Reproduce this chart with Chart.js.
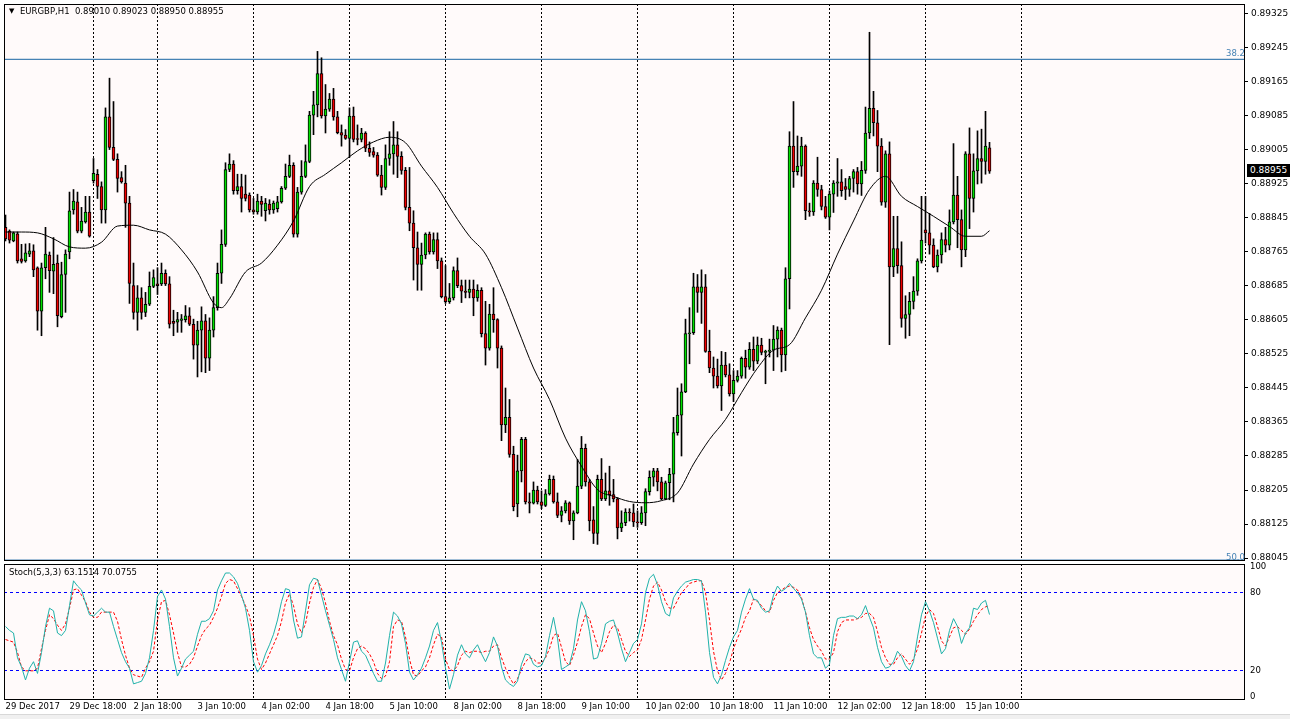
<!DOCTYPE html>
<html>
<head>
<meta charset="utf-8">
<title>EURGBP,H1</title>
<script src="https://cdn.jsdelivr.net/npm/chart.js@4.4.1/dist/chart.umd.min.js"></script>
<style>
  body { margin:0; background:#fff; width:1290px; height:719px; position:relative; overflow:hidden; font-family:'DejaVu Sans', sans-serif; }
  canvas { position:absolute; left:0; }
  #cMain { top:0; width:1290px; height:562px; }
  #cStoch { top:562px; width:1290px; height:157px; }
  .txt { position:absolute; font-size:8.5px; line-height:11px; white-space:pre; color:#000; }
  #priceBox { position:absolute; left:1247px; top:164px; width:43px; height:13px; background:#000; color:#fff; font-size:9px; line-height:13px; padding-left:3px; box-sizing:border-box; }
  #winBottom { position:absolute; left:0; top:714px; width:1290px; height:5px; background:#f0f0f0; border-top:1px solid #d8d8d8; }
</style>
</head>
<body>
<canvas id="cMain" width="1290" height="562"></canvas>
<canvas id="cStoch" width="1290" height="157"></canvas>
<div class="txt" style="left:9px;top:6px;font-size:7px">▼</div>
<div class="txt" style="left:20px;top:6px">EURGBP,H1  0.89010 0.89023 0.88950 0.88955</div>
<div class="txt" style="left:9px;top:567px">Stoch(5,3,3) 63.1514 70.0755</div>
<div class="txt" style="left:1226px;top:48px;color:#4682b4">38.2</div>
<div class="txt" style="left:1226px;top:552px;color:#4682b4">50.0</div>
<div id="priceBox">0.88955</div>
<div id="winBottom"></div>
<script>
// EURGBP H1, 29 Dec 2017 02:00 .. 15 Jan 2018 16:00 (bar index 0..246)
const open = [
  0.88823,0.88814,0.88791,0.88808,0.88749,0.88744,0.88760,0.88768,0.88728,0.88626,
  0.88728,0.88758,0.88720,0.88739,0.88613,0.88712,0.88765,0.88864,0.88883,0.88814,
  0.88836,0.88859,0.88933,0.88948,0.88919,0.88864,0.89083,0.89011,0.88983,0.88940,
  0.88927,0.88880,0.88686,0.88623,0.88657,0.88623,0.88642,0.88684,0.88690,0.88690,
  0.88715,0.88690,0.88602,0.88600,0.88604,0.88606,0.88615,0.88595,0.88546,0.88581,
  0.88603,0.88515,0.88581,0.88634,0.88715,0.88783,0.88959,0.88972,0.88909,0.88919,
  0.88901,0.88899,0.88864,0.88859,0.88885,0.88862,0.88878,0.88864,0.88867,0.88883,
  0.88915,0.88943,0.88969,0.88807,0.88906,0.88943,0.88978,0.89087,0.89111,0.89185,
  0.89085,0.89101,0.89125,0.89083,0.89046,0.89040,0.89032,0.89085,0.89032,0.89030,
  0.89045,0.89009,0.89001,0.88993,0.88946,0.88917,0.88985,0.88996,0.89017,0.88990,
  0.88957,0.88870,0.88833,0.88775,0.88736,0.88758,0.88807,0.88765,0.88794,0.88744,
  0.88660,0.88648,0.88657,0.88721,0.88686,0.88673,0.88670,0.88678,0.88657,0.88675,
  0.88573,0.88539,0.88619,0.88606,0.88539,0.88358,0.88376,0.88289,0.88172,0.88250,
  0.88324,0.88177,0.88174,0.88205,0.88177,0.88169,0.88196,0.88230,0.88177,0.88145,
  0.88156,0.88175,0.88132,0.88151,0.88214,0.88303,0.88224,0.88135,0.88103,0.88230,
  0.88184,0.88203,0.88194,0.88184,0.88116,0.88128,0.88153,0.88151,0.88130,0.88128,
  0.88151,0.88201,0.88235,0.88250,0.88224,0.88184,0.88222,0.88242,0.88340,0.88381,
  0.88436,0.88573,0.88575,0.88683,0.88670,0.88683,0.88531,0.88492,0.88473,0.88450,
  0.88499,0.88476,0.88431,0.88463,0.88473,0.88515,0.88494,0.88536,0.88508,0.88546,
  0.88529,0.88531,0.88534,0.88560,0.88581,0.88523,0.88702,0.89014,0.88954,0.88967,
  0.89014,0.88862,0.88859,0.88927,0.88912,0.88872,0.88847,0.88901,0.88927,0.88930,
  0.88919,0.88912,0.88938,0.88954,0.88925,0.88957,0.89045,0.89103,0.89069,0.89014,
  0.88882,0.88996,0.88730,0.88773,0.88733,0.88609,0.88618,0.88649,0.88673,0.88744,
  0.88817,0.88810,0.88781,0.88730,0.88758,0.88794,0.88781,0.88836,0.88899,0.88841,
  0.88770,0.88996,0.88891,0.88956,0.88985,0.88978,0.89010
];
const high = [
  0.88852,0.88817,0.88812,0.88812,0.88783,0.88784,0.88785,0.88782,0.88730,0.88739,
  0.88823,0.88765,0.88799,0.88758,0.88741,0.88770,0.88906,0.88912,0.88906,0.88870,
  0.88896,0.88896,0.88985,0.88959,0.88930,0.89104,0.89174,0.89119,0.88996,0.88954,
  0.88969,0.88896,0.88739,0.88686,0.88681,0.88670,0.88718,0.88723,0.88728,0.88739,
  0.88723,0.88707,0.88628,0.88623,0.88618,0.88639,0.88634,0.88607,0.88602,0.88636,
  0.88618,0.88610,0.88660,0.88739,0.88817,0.88975,0.88996,0.88980,0.88948,0.88948,
  0.88946,0.88904,0.88891,0.88901,0.88896,0.88891,0.88888,0.88885,0.88896,0.88919,
  0.88972,0.88993,0.88975,0.88917,0.88980,0.89017,0.89096,0.89143,0.89237,0.89222,
  0.89159,0.89138,0.89150,0.89096,0.89064,0.89053,0.89104,0.89106,0.89064,0.89056,
  0.89048,0.89024,0.89011,0.88999,0.88969,0.89017,0.89048,0.89072,0.89048,0.89001,
  0.88964,0.88964,0.88862,0.88812,0.88786,0.88810,0.88812,0.88810,0.88810,0.88751,
  0.88733,0.88691,0.88730,0.88751,0.88699,0.88699,0.88699,0.88699,0.88688,0.88681,
  0.88649,0.88642,0.88681,0.88608,0.88544,0.88445,0.88418,0.88308,0.88287,0.88329,
  0.88329,0.88198,0.88224,0.88214,0.88203,0.88206,0.88240,0.88238,0.88198,0.88166,
  0.88180,0.88177,0.88156,0.88277,0.88331,0.88313,0.88230,0.88166,0.88240,0.88279,
  0.88245,0.88261,0.88230,0.88187,0.88156,0.88161,0.88161,0.88172,0.88156,0.88166,
  0.88208,0.88250,0.88256,0.88256,0.88235,0.88226,0.88256,0.88376,0.88445,0.88455,
  0.88607,0.88634,0.88715,0.88712,0.88723,0.88712,0.88581,0.88518,0.88513,0.88531,
  0.88529,0.88502,0.88486,0.88486,0.88518,0.88534,0.88552,0.88565,0.88565,0.88562,
  0.88534,0.88560,0.88592,0.88589,0.88586,0.88728,0.89048,0.89119,0.89038,0.89035,
  0.89017,0.88880,0.88933,0.88988,0.88922,0.88896,0.88909,0.88933,0.88985,0.88959,
  0.88938,0.88943,0.88959,0.88964,0.88978,0.89106,0.89282,0.89143,0.89098,0.89032,
  0.89003,0.89024,0.88849,0.88849,0.88789,0.88662,0.88670,0.88707,0.88749,0.88896,
  0.88896,0.88856,0.88796,0.88770,0.88810,0.88823,0.88864,0.89020,0.88943,0.88864,
  0.89001,0.89057,0.88996,0.89050,0.89054,0.89096,0.89023
];
const low = [
  0.88791,0.88786,0.88789,0.88739,0.88739,0.88741,0.88754,0.88707,0.88581,0.88568,
  0.88702,0.88670,0.88667,0.88589,0.88610,0.88623,0.88749,0.88854,0.88810,0.88810,
  0.88833,0.88800,0.88927,0.88891,0.88833,0.88833,0.89006,0.88980,0.88906,0.88927,
  0.88823,0.88644,0.88607,0.88581,0.88607,0.88613,0.88639,0.88681,0.88665,0.88686,
  0.88686,0.88586,0.88568,0.88576,0.88576,0.88600,0.88592,0.88513,0.88471,0.88483,
  0.88481,0.88486,0.88565,0.88628,0.88691,0.88778,0.88954,0.88901,0.88901,0.88859,
  0.88885,0.88859,0.88854,0.88854,0.88849,0.88838,0.88854,0.88856,0.88859,0.88880,
  0.88912,0.88940,0.88800,0.88800,0.88901,0.88940,0.88975,0.89041,0.89083,0.89080,
  0.89045,0.89096,0.89075,0.89043,0.89014,0.89030,0.88988,0.89024,0.89017,0.89024,
  0.89001,0.88990,0.88988,0.88943,0.88899,0.88912,0.88969,0.88948,0.88940,0.88948,
  0.88864,0.88815,0.88699,0.88675,0.88675,0.88749,0.88760,0.88760,0.88726,0.88657,
  0.88644,0.88644,0.88652,0.88681,0.88646,0.88657,0.88657,0.88615,0.88649,0.88565,
  0.88499,0.88534,0.88576,0.88492,0.88321,0.88340,0.88282,0.88156,0.88142,0.88224,
  0.88172,0.88151,0.88172,0.88172,0.88161,0.88166,0.88193,0.88174,0.88140,0.88130,
  0.88151,0.88124,0.88088,0.88149,0.88208,0.88214,0.88109,0.88079,0.88077,0.88180,
  0.88180,0.88169,0.88177,0.88090,0.88107,0.88121,0.88132,0.88119,0.88117,0.88124,
  0.88121,0.88193,0.88214,0.88203,0.88182,0.88182,0.88182,0.88177,0.88334,0.88285,
  0.88434,0.88502,0.88571,0.88623,0.88597,0.88529,0.88481,0.88445,0.88445,0.88392,
  0.88471,0.88426,0.88413,0.88459,0.88468,0.88468,0.88489,0.88486,0.88502,0.88523,
  0.88455,0.88518,0.88486,0.88518,0.88483,0.88486,0.88631,0.88917,0.88946,0.88943,
  0.88841,0.88849,0.88851,0.88896,0.88864,0.88844,0.88817,0.88858,0.88896,0.88896,
  0.88888,0.88896,0.88906,0.88901,0.88898,0.88950,0.89032,0.89038,0.88954,0.88875,
  0.88870,0.88547,0.88707,0.88715,0.88588,0.88562,0.88568,0.88631,0.88663,0.88739,
  0.88786,0.88760,0.88728,0.88718,0.88739,0.88765,0.88770,0.88831,0.88775,0.88730,
  0.88754,0.88820,0.88859,0.88925,0.88927,0.88948,0.88950
];
const close = [
  0.88796,0.88793,0.88810,0.88744,0.88743,0.88763,0.88768,0.88723,0.88626,0.88728,
  0.88760,0.88721,0.88736,0.88615,0.88712,0.88760,0.88862,0.88885,0.88814,0.88838,
  0.88859,0.88802,0.88950,0.88919,0.88864,0.89083,0.89011,0.88983,0.88938,0.88930,
  0.88880,0.88691,0.88623,0.88657,0.88623,0.88642,0.88684,0.88705,0.88686,0.88715,
  0.88690,0.88595,0.88597,0.88606,0.88608,0.88615,0.88595,0.88546,0.88581,0.88603,
  0.88515,0.88581,0.88634,0.88715,0.88783,0.88959,0.88972,0.88909,0.88919,0.88891,
  0.88891,0.88864,0.88859,0.88885,0.88877,0.88880,0.88864,0.88880,0.88883,0.88915,
  0.88943,0.88969,0.88807,0.88906,0.88943,0.88978,0.89087,0.89111,0.89185,0.89085,
  0.89101,0.89125,0.89083,0.89046,0.89040,0.89032,0.89085,0.89030,0.89030,0.89045,
  0.89009,0.88999,0.88993,0.88946,0.88917,0.88985,0.88996,0.89017,0.88990,0.88957,
  0.88870,0.88833,0.88775,0.88736,0.88758,0.88807,0.88765,0.88794,0.88744,0.88660,
  0.88648,0.88657,0.88721,0.88686,0.88673,0.88670,0.88678,0.88657,0.88675,0.88573,
  0.88539,0.88619,0.88606,0.88539,0.88358,0.88376,0.88289,0.88166,0.88250,0.88324,
  0.88177,0.88174,0.88205,0.88177,0.88169,0.88196,0.88230,0.88177,0.88145,0.88156,
  0.88175,0.88132,0.88151,0.88214,0.88303,0.88224,0.88132,0.88103,0.88230,0.88184,
  0.88203,0.88194,0.88184,0.88116,0.88128,0.88153,0.88151,0.88130,0.88128,0.88151,
  0.88201,0.88235,0.88250,0.88224,0.88184,0.88222,0.88242,0.88340,0.88381,0.88436,
  0.88573,0.88575,0.88683,0.88670,0.88683,0.88531,0.88492,0.88473,0.88450,0.88499,
  0.88476,0.88431,0.88463,0.88473,0.88515,0.88494,0.88536,0.88508,0.88546,0.88529,
  0.88531,0.88534,0.88560,0.88581,0.88523,0.88702,0.89014,0.88954,0.88967,0.89014,
  0.88862,0.88859,0.88927,0.88912,0.88872,0.88847,0.88901,0.88927,0.88930,0.88909,
  0.88912,0.88938,0.88954,0.88925,0.88957,0.89045,0.89103,0.89069,0.89014,0.88882,
  0.88996,0.88730,0.88773,0.88733,0.88609,0.88618,0.88649,0.88673,0.88744,0.88793,
  0.88810,0.88781,0.88730,0.88758,0.88794,0.88781,0.88836,0.88899,0.88841,0.88770,
  0.88996,0.88891,0.88956,0.88985,0.88978,0.89014,0.88955
];

// moving average (bar index -> price)
const maBar = [0,4,8,12,16,20,24,28,32,36,40,44,48,52,54,56,60,64,68,72,76,80,84,88,92,96,100,104,108,112,116,120,124,128,132,136,140,144,148,152,156,160,164,168,172,176,180,184,188,192,196,200,204,208,212,216,220,224,228,232,236,240,244,246];
const maValue = [0.88812,0.88812,0.88810,0.88796,0.88777,0.88774,0.88788,0.88826,0.88828,0.88817,0.88807,0.88770,0.88718,0.88645,0.88634,0.88655,0.88718,0.88739,0.88781,0.88838,0.88919,0.88948,0.88975,0.89003,0.89024,0.89035,0.89022,0.88967,0.88917,0.88856,0.88802,0.88760,0.88681,0.88586,0.88492,0.88418,0.88327,0.88261,0.88206,0.88190,0.88178,0.88175,0.88180,0.88198,0.88266,0.88324,0.88371,0.88434,0.88492,0.88534,0.88547,0.88610,0.88675,0.88760,0.88838,0.88912,0.88943,0.88896,0.88872,0.88849,0.88825,0.88802,0.88802,0.88815];

// Stoch(5,3,3)
const stochMain = [
  54,51,49,30,23,13,22,27,18,34, 54,68,66,49,47,51,70,89,85,82, 72,63,62,65,68,65,65,54,44,34, 27,22,
  10,11,12,18,30,51,77,82,75,54, 30,16,22,29,32,35,48,58,58,60, 66,82,89,95,95,92,87,78,68,51, 27,19,
  24,33,40,48,59,73,83,82,59,45, 46,66,86,91,90,78,66,55,44,30, 21,12,27,42,43,35,32,25,18,12, 12,26,
  47,65,62,56,41,19,13,17,22,30, 39,51,57,42,22,6,17,32,40,33, 30,36,40,33,27,34,46,39,23,13, 10,8,
  12,25,33,32,25,23,24,31,47,61, 45,21,23,25,37,59,73,66,50,29, 30,41,56,58,59,49,37,27,34,41, 44,56,
  80,91,94,86,73,64,62,76,81,85, 88,89,90,90,89,65,34,15,10,17, 28,38,46,51,65,75,83,75,74,68, 65,66,
  78,85,81,83,87,83,80,75,65,47, 33,30,30,22,25,47,60,61,61,62, 62,60,63,70,61,53,38,27,22,23, 27,35,
  31,24,20,27,46,63,73,66,57,45, 33,37,51,60,54,41,49,53,68,67, 72,74,63.15
];
const stochSignal = [
  44,43,42,34,23,20,20,20,22,37, 51,63,60,55,51,56,68,82,83,78, 73,65,61,61,65,65,65,65,58,44, 32,22,
  17,16,15,22,27,35,59,73,74,63, 49,34,23,23,25,30,39,47,52,55, 61,68,77,87,90,89,83,77,70,62, 47,29,
  21,26,33,40,47,58,72,79,70,56, 49,56,72,84,90,83,72,58,47,40, 29,21,20,30,37,39,37,33,27,18, 14,16,
  27,54,59,58,46,29,17,16,20,23, 30,40,48,46,29,21,20,24,32,35, 34,35,35,34,35,35,39,40,30,22, 15,10,
  14,21,27,30,29,26,26,30,37,47, 49,38,27,24,32,42,54,63,60,49, 39,34,41,50,55,53,44,35,31,34, 36,44,
  59,75,85,88,82,73,68,68,74,80, 83,87,88,89,89,80,59,35,20,13, 18,26,37,45,52,61,66,75,73,70, 66,65,
  74,80,82,84,85,84,82,76,65,53, 44,39,35,29,29,34,50,57,59,59, 59,60,61,64,64,61,50,38,30,25, 25,30,
  33,29,25,29,37,49,62,67,64,54, 43,39,46,53,54,51,48,52,58,63, 67,69,70.08
];

const priceTicks = [0.89325,0.89245,0.89165,0.89085,0.89005,0.88925,0.88845,0.88765,0.88685,0.88605,0.88525,0.88445,0.88365,0.88285,0.88205,0.88125,0.88045];
const stochTicks = [100, 80, 20, 0];
const stochLevels = [80, 20];
const fibLevels = [0.89218, 0.88040];   // 38.2 and 50.0
const daySeparators = [22, 38, 62, 86, 110, 134, 158, 182, 206, 230, 254];
const labelBars = [0, 16, 32, 48, 64, 80, 96, 112, 128, 144, 160, 176, 192, 208, 224, 240];
const labelText = ['29 Dec 2017','29 Dec 18:00','2 Jan 18:00','3 Jan 10:00','4 Jan 02:00','4 Jan 18:00','5 Jan 10:00','8 Jan 02:00','8 Jan 18:00','9 Jan 10:00','10 Jan 02:00','10 Jan 18:00','11 Jan 10:00','12 Jan 02:00','12 Jan 18:00','15 Jan 10:00'];

// view window
const X_MIN = -0.375, X_MAX = 309.625;
const P_MIN = 0.880403, P_MAX = 0.893485;
const S_MIN = -1.6, S_MAX = 101.9;

Chart.defaults.font.family = "'DejaVu Sans', sans-serif";
Chart.defaults.color = '#000';

// no label overhang padding, keep the plot boxes where MT4 has them
function noPad(s) {
  s.paddingTop = 0; s.paddingBottom = 0; s.paddingLeft = 0; s.paddingRight = 0;
}

const frame = {
  id: 'frame',
  beforeDraw(chart) {
    const { ctx, chartArea: a } = chart;
    ctx.save();
    ctx.fillStyle = '#fffafa';
    ctx.fillRect(a.left, a.top, a.right - a.left, a.bottom - a.top);
    ctx.restore();
  },
  afterDraw(chart) {
    const { ctx, chartArea: a } = chart;
    ctx.save();
    ctx.strokeStyle = '#000';
    ctx.lineWidth = 1;
    ctx.strokeRect(a.left + 0.5, a.top + 0.5, a.right - a.left, a.bottom - a.top);
    ctx.restore();
  }
};

const dayGrid = {
  type: 'linear', min: X_MIN, max: X_MAX, offset: false,
  afterBuildTicks: s => { s.ticks = daySeparators.map(v => ({ value: v })); },
  afterFit: s => { s.height = 0; noPad(s); },
  grid: { color: '#000', drawTicks: false, offset: false },
  border: { display: false, dash: [2, 2] },
  ticks: { display: false }
};

const bull = '#00e000', bear = '#f00000';

new Chart(document.getElementById('cMain'), {
  type: 'bar',
  data: {
    datasets: [
      {
        type: 'line', label: 'MA', order: -1,
        data: maBar.map((b, k) => ({ x: b, y: maValue[k] })),
        borderColor: '#000', borderWidth: 1, pointRadius: 0, cubicInterpolationMode: 'monotone'
      },
      {
        label: 'body', order: 0, grouped: false, barThickness: 3,
        data: open.map((o, i) => ({ x: i, y: [Math.min(o, close[i]), Math.max(o, close[i])] })),
        backgroundColor: open.map((o, i) => close[i] >= o ? bull : bear),
        borderColor: '#000', borderWidth: 1, borderSkipped: false
      },
      {
        label: 'wick', order: 1, grouped: false, barThickness: 1,
        data: low.map((l, i) => ({ x: i, y: [l, high[i]] })),
        backgroundColor: '#000', borderWidth: 0
      },
      ...fibLevels.map(f => ({
        type: 'line', label: 'fib', order: 2,
        data: [{ x: X_MIN, y: f }, { x: X_MAX, y: f }],
        borderColor: 'rgb(70,130,180)', backgroundColor: 'rgb(70,130,180)',
        borderWidth: 1.2, pointRadius: 0, fill: false
      }))
    ]
  },
  options: {
    responsive: false, animation: false, devicePixelRatio: 1, events: [],
    layout: { padding: { left: 4, top: 4, right: 0, bottom: 2 }, autoPadding: false },
    plugins: { legend: { display: false }, tooltip: { enabled: false } },
    scales: {
      x: dayGrid,
      y: {
        type: 'linear', position: 'right', min: P_MIN, max: P_MAX,
        afterBuildTicks: s => { s.ticks = priceTicks.map(v => ({ value: v })); },
        afterFit: s => { s.width = 46; noPad(s); },
        grid: { drawOnChartArea: false, drawTicks: true, tickLength: 4, color: '#000', tickColor: '#000' },
        border: { display: false },
        ticks: { padding: 3, font: { size: 9 }, callback: v => v.toFixed(5) }
      }
    }
  },
  plugins: [frame]
});

new Chart(document.getElementById('cStoch'), {
  type: 'line',
  data: {
    datasets: [
      {
        label: 'main', data: stochMain.map((v, i) => ({ x: i, y: v })),
        borderColor: '#20b2aa', borderWidth: 1, pointRadius: 0
      },
      {
        label: 'signal', data: stochSignal.map((v, i) => ({ x: i, y: v })),
        borderColor: '#ff0000', borderWidth: 1, pointRadius: 0, borderDash: [3, 2]
      }
    ]
  },
  options: {
    responsive: false, animation: false, devicePixelRatio: 1, events: [],
    layout: { padding: { left: 4, top: 2, right: 0, bottom: 2 }, autoPadding: false },
    plugins: { legend: { display: false }, tooltip: { enabled: false } },
    scales: {
      x: {
        type: 'linear', min: X_MIN, max: X_MAX, offset: false,
        afterBuildTicks: s => {
          s.ticks = [...daySeparators, ...labelBars].sort((a, b) => a - b).map(v => ({ value: v }));
        },
        afterFit: s => { s.height = 18; noPad(s); },
        grid: {
          drawTicks: false, offset: false,
          color: c => (c.tick && daySeparators.includes(c.tick.value)) ? '#000' : 'rgba(0,0,0,0)'
        },
        border: { display: false, dash: [2, 2] },
        ticks: {
          autoSkip: false, maxRotation: 0, minRotation: 0, align: 'start', padding: 3,
          font: { size: 8.5 },
          callback: v => { const k = labelBars.indexOf(v); return k >= 0 ? labelText[k] : ''; }
        }
      },
      y: {
        type: 'linear', position: 'right', min: S_MIN, max: S_MAX,
        afterBuildTicks: s => { s.ticks = stochTicks.map(v => ({ value: v })); },
        afterFit: s => { s.width = 46; noPad(s); },
        grid: {
          drawTicks: false,
          color: c => (c.tick && stochLevels.includes(c.tick.value)) ? '#0000ff' : 'rgba(0,0,0,0)'
        },
        border: { display: false, dash: [3, 3] },
        ticks: { padding: 6, font: { size: 8.5 } }
      }
    }
  },
  plugins: [frame]
});
</script>
</body>
</html>
